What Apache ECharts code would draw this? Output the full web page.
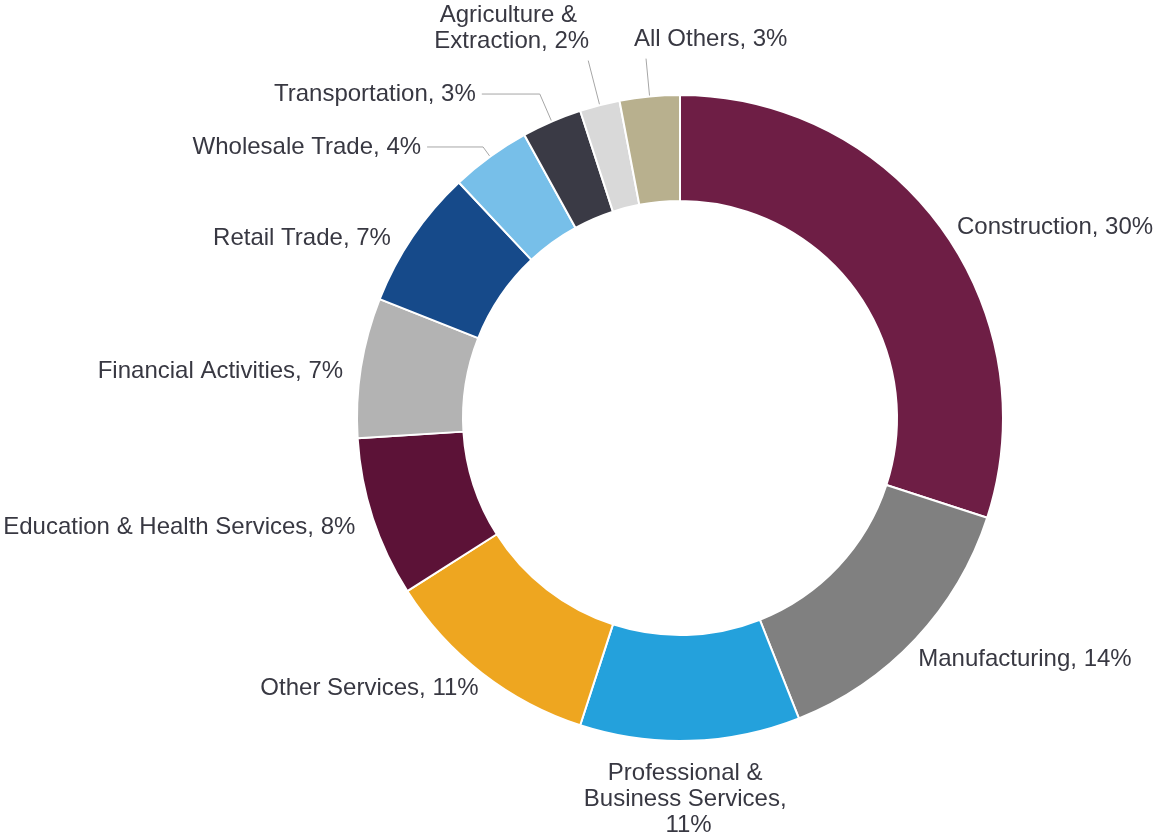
<!DOCTYPE html>
<html>
<head>
<meta charset="utf-8">
<title>Industry share</title>
<script src="https://cdn.jsdelivr.net/npm/echarts@6/dist/echarts.min.js"></script>
<style>
  html, body { margin: 0; padding: 0; background: #fff; }
  #chart { width: 1162px; height: 832px; }
</style>
</head>
<body>
<div id="chart"></div>
<script>
// industries, clockwise from 12 o'clock
var industries = [
    'Construction',
    'Manufacturing',
    'Professional & Business Services',
    'Other Services',
    'Education & Health Services',
    'Financial Activities',
    'Retail Trade',
    'Wholesale Trade',
    'Transportation',
    'Agriculture & Extraction',
    'All Others'
];
var shares = [30, 14, 11, 11, 8, 7, 7, 4, 3, 2, 3];

var colors = [
    '#6e1e45', '#808080', '#24a1dc', '#eea620', '#5c1237', '#b3b3b3',
    '#164a8a', '#77bfe9', '#3a3a45', '#d9d9d9', '#b8b08e'
];

// labels that wrap onto several lines
var wrapWidth = {
    'Professional & Business Services': 215,
    'Agriculture & Extraction': 165
};
// leader lines [length, length2] for the thin slices
var leaders = {
    'Wholesale Trade': [12, 56],
    'Transportation': [30, 58],
    'Agriculture & Extraction': [46, 0],
    'All Others': [38, 0]
};
// labels that sit off the end of their line instead of beside it
var placeAt = {
    'Professional & Business Services': { align: 'center', verticalAlign: 'top', dx: -2, dy: 8 },
    'Agriculture & Extraction': { align: 'center', verticalAlign: 'bottom', dx: -4, dy: -6, half: -1 },
    'All Others': { align: 'left', verticalAlign: 'bottom', dx: -12, dy: -6 }
};
// small nudges for the plain labels (default is [0, 6])
var nudge = {
    'Manufacturing': [-12, 12],
    'Other Services': [10, 6],
    'Retail Trade': [-6, 9]
};

var myChart = echarts.init(document.getElementById('chart'));

var data = industries.map(function (name, i) {
    var lead = leaders[name];
    var item = {
        name: name,
        value: shares[i],
        itemStyle: { color: colors[i] },
        labelLine: lead
            ? { show: true, length: lead[0], length2: lead[1] }
            : { show: false, length: 12, length2: 0 }
    };
    if (wrapWidth[name]) {
        item.label = { width: wrapWidth[name], overflow: 'break', align: 'center' };
    }
    return item;
});

var option = {
    animation: false,
    series: [
        {
            type: 'pie',
            center: [680, 418],
            radius: [217, 323],
            startAngle: 90,
            clockwise: true,
            avoidLabelOverlap: false,
            itemStyle: { borderColor: '#fff', borderWidth: 2 },
            label: {
                formatter: '{b}, {c}%',
                fontFamily: 'Liberation Sans',
                fontSize: 24,
                lineHeight: 26,
                color: '#383842',
                distanceToLabelLine: 6,
                bleedMargin: 0
            },
            labelLine: {
                lineStyle: { color: '#a6a6a6', width: 1 }
            },
            labelLayout: function (params) {
                var name = industries[params.dataIndex];
                var p = placeAt[name];
                var pts = params.labelLinePoints;
                if (p && pts) {
                    var end = pts[pts.length - 1];
                    var x = end[0] + p.dx;
                    if (p.half) {
                        x += p.half * params.labelRect.width / 2 + 10;
                    }
                    return {
                        x: x,
                        y: end[1] + p.dy,
                        align: p.align,
                        verticalAlign: p.verticalAlign,
                        labelLinePoints: pts
                    };
                }
                if (!leaders[name]) {
                    var n = nudge[name] || [0, 6];
                    return { dx: n[0], dy: n[1] };
                }
                return {};
            },
            data: data
        }
    ]
};

myChart.setOption(option);
</script>
</body>
</html>
